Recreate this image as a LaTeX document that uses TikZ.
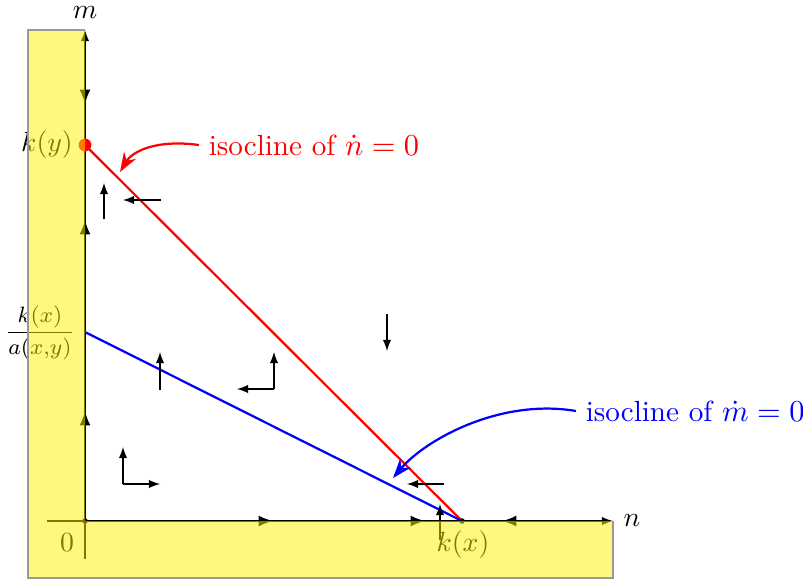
\documentclass[tikz,border=0pt]{standalone}
\usetikzlibrary{arrows.meta}
\begin{document}
\begin{tikzpicture}[x=0.36pt,y=-0.36pt,
  flow/.style={-latex},
  axflow/.style={-latex,thick},
  axis/.style={-latex},
  iso/.style={line width=0.8pt},
  note/.style={line width=0.8pt,-{Stealth[length=7pt,width=5pt]}},
  notefont/.style={font=\fontsize{10.5pt}{13pt}\selectfont}]
\useasboundingbox (0,0) rectangle (803,581);
% key points
\coordinate (O) at (85,521);
\coordinate (kx) at (462,521);
\coordinate (ky) at (85,145);
\coordinate (kxa) at (85,332);
% axes
\coordinate (xs) at (47,521); \coordinate (xe) at (613,521);
\coordinate (ys) at (85,559); \coordinate (ye) at (85,30);
\draw[axis] (xs) -- (xe);
\draw[axis] (ys) -- (ye);
\node (mlab) at (85,13) {$m$};
\node (nlab) at (632,521) {$n$};
\node (zero) at (67,543) {$0$};
\node (kxlab) at (463,545) {$k(x)$};
\node (kylab) at (47,145) {$k(y)$};
\node (fraclab) at (40,333) {\footnotesize$\displaystyle\frac{k(x)}{a(x{,}y)}$};
% isoclines
\draw[iso,red] (ky) -- (kx);
\draw[iso,blue] (kxa) -- (kx);
\fill[red] (ky) circle (2.3pt);
\fill (O) circle (1pt);
\fill (kx) circle (1pt);
% flow arrows on axes
\draw[axflow] (85,68) -- (85,104);
\draw[axflow] (85,256) -- (85,220);
\draw[axflow] (85,447) -- (85,411);
\draw[axflow] (236,521) -- (273,521);
\draw[axflow] (388,521) -- (425,521);
\draw[axflow] (539,521) -- (502,521);
% flow arrows in regions
\draw[flow] (104,219) -- (104,183);
\draw[flow] (161,200) -- (123,200);
\draw[flow] (160,390) -- (160,352);
\draw[flow] (274,389) -- (274,352);
\draw[flow] (274,389) -- (237,389);
\draw[flow] (123,484) -- (123,447);
\draw[flow] (123,484) -- (160,484);
\draw[flow] (387,314) -- (387,351);
\draw[flow] (444,484) -- (407,484);
\draw[flow] (440,540) -- (440,504);
% yellow overlay
\fill[yellow,fill opacity=0.5] (28,30) -- (85,30) -- (85,521) -- (613,521) -- (613,578) -- (28,578) -- cycle;
\draw[gray!80] (85,30) -- (28,30) -- (28,578) -- (613,578) -- (613,521);
% annotations
\node[red,anchor=west,notefont] (nnote) at (199,145) {isocline of $\dot n=0$};
\node[blue,anchor=west,notefont] (mnote) at (576,411) {isocline of $\dot m=0$};
\coordinate (nt) at (120,172);
\coordinate (mt) at (393,478);
\draw[note,red] (nnote.west) .. controls (155,139) and (132,152) .. (nt);
\draw[note,blue] (mnote.west) .. controls (500,398) and (425,440) .. (mt);
\end{tikzpicture}
\end{document}
